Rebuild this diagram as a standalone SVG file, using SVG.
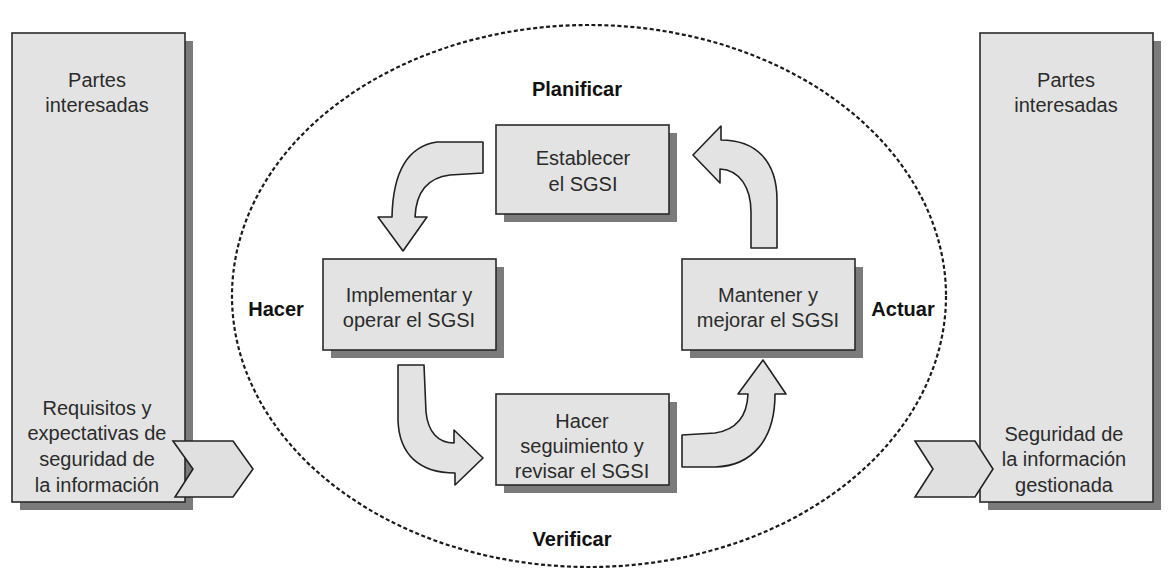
<svg xmlns="http://www.w3.org/2000/svg" width="1176" height="576" viewBox="0 0 1176 576">
<style>
.bg{fill:#ffffff}
.box{fill:#e3e3e3;stroke:#2a2a2a;stroke-width:1.6}
.sh{fill:#7b7b7b}
.arrow{fill:#e3e3e3;stroke:#222;stroke-width:1.6;stroke-linejoin:round}
.chev{fill:#e0e0e0;stroke:#222;stroke-width:1.6;stroke-linejoin:miter}
.ring{fill:none;stroke:#1a1a1a;stroke-width:2.2;stroke-dasharray:4 2.5}
.t{font-family:"Liberation Sans",Arial,sans-serif;font-size:20px;fill:#2b2b2b;text-anchor:middle}
.b{font-family:"Liberation Sans",Arial,sans-serif;font-size:20px;font-weight:bold;fill:#111;text-anchor:middle}
</style>
<rect class="bg" x="0" y="0" width="1176" height="576"/>

<ellipse id="ciclo" class="ring" cx="589" cy="296" rx="357" ry="271"/>

<g id="partes-izq">
<rect class="sh" x="20" y="41" width="173" height="469"/>
<rect class="box" x="12" y="33" width="173" height="469"/>
<text class="t" x="97" y="87">Partes</text>
<text class="t" x="97" y="112">interesadas</text>
<text class="t" x="97" y="415">Requisitos y</text>
<text class="t" x="97" y="440">expectativas de</text>
<text class="t" x="97" y="466">seguridad de</text>
<text class="t" x="97" y="492">la información</text>
</g>

<g id="partes-der">
<rect class="sh" x="988" y="41" width="173" height="469"/>
<rect class="box" x="980" y="33" width="173" height="469"/>
<text class="t" x="1066" y="87">Partes</text>
<text class="t" x="1066" y="112">interesadas</text>
<text class="t" x="1064" y="441">Seguridad de</text>
<text class="t" x="1064" y="466">la información</text>
<text class="t" x="1064" y="492">gestionada</text>
</g>

<g id="establecer">
<rect class="sh" x="504" y="133" width="173" height="89"/>
<rect class="box" x="496" y="125" width="173" height="89"/>
<text class="t" x="583" y="165">Establecer</text>
<text class="t" x="583" y="191">el SGSI</text>
</g>

<g id="implementar">
<rect class="sh" x="331" y="267" width="173" height="91"/>
<rect class="box" x="323" y="259" width="173" height="91"/>
<text class="t" x="409" y="302">Implementar y</text>
<text class="t" x="409" y="327">operar el SGSI</text>
</g>

<g id="mantener">
<rect class="sh" x="690" y="267" width="173" height="91"/>
<rect class="box" x="682" y="259" width="173" height="91"/>
<text class="t" x="768" y="302">Mantener y</text>
<text class="t" x="768" y="327">mejorar el SGSI</text>
</g>

<g id="seguimiento">
<rect class="sh" x="504" y="402" width="173" height="91"/>
<rect class="box" x="496" y="394" width="173" height="91"/>
<text class="t" x="582" y="428">Hacer</text>
<text class="t" x="582" y="453">seguimiento y</text>
<text class="t" x="582" y="478">revisar el SGSI</text>
</g>

<g id="etiquetas">
<text class="b" x="577" y="96">Planificar</text>
<text class="b" x="276" y="316">Hacer</text>
<text class="b" x="903" y="316">Actuar</text>
<text class="b" x="572" y="546">Verificar</text>
</g>

<g id="conectores">
<path class="arrow" d="M483,142 L437,142 C410,146 393,168 392,217 L378,217 L403,251 L427,217 L415,217 C416,195 425,178 450,175 L483,173 Z"/>
<path class="arrow" d="M751,248 L751,212 C751,188 740,170 720,169 L720,183 L693,155 L721,126 L721,140 C755,140 777,160 777,200 L777,248 Z"/>
<path class="arrow" d="M398,365 L424,365 L426,412 C428,432 438,443 454,443 L454,430 L483,458 L455,485 L455,473 C420,473 399,455 398,420 Z"/>
<path class="arrow" d="M682,435 L715,433 C735,430 747,418 748,394 L738,394 L763,360 L786,394 L775,394 C775,440 752,466 715,467 L682,467 Z"/>
<path class="chev" d="M173,441 L233,441 L253,469 L233,497 L175,497 L193,469 Z"/>
<path class="chev" d="M915,441 L975,441 L993,469 L975,497 L915,497 L933,469 Z"/>
</g>
</svg>
